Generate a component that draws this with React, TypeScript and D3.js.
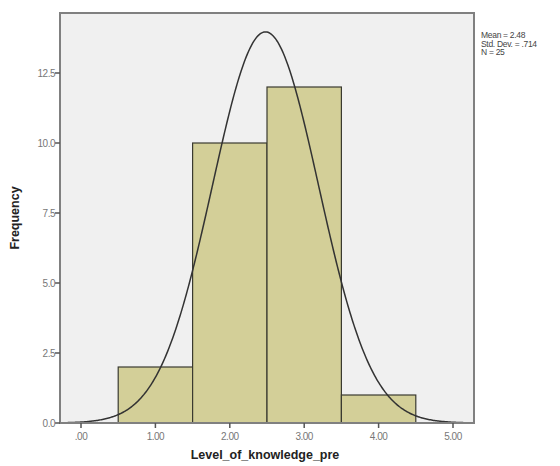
import React from "react";
import * as d3 from "d3";

const binStarts = [0.5, 1.5, 2.5, 3.5];
const binEnds = [1.5, 2.5, 3.5, 4.5];
const frequencies = [2, 10, 12, 1];
const xTicks = [0, 1, 2, 3, 4, 5];
const xTickLabels = [".00", "1.00", "2.00", "3.00", "4.00", "5.00"];
const yTicks = [0, 2.5, 5, 7.5, 10, 12.5];
const yTickLabels = ["0.0", "2.5", "5.0", "7.5", "10.0", "12.5"];
const mean = 2.48;
const sd = 0.714;
const n = 25;
const statsLines = ["Mean = 2.48", "Std. Dev. = .714", "N = 25"];

export default function App() {
  const W = 560, H = 466;
  const left = 60, right = 474, top = 13, bottom = 423;
  const x = d3.scaleLinear().domain([0, 5]).range([81, 453]);
  const y = d3.scaleLinear().domain([0, 14]).range([bottom, bottom - 14 * 28]);
  const pdf = (v: number) => (n * 1 / (sd * Math.sqrt(2 * Math.PI))) * Math.exp(-((v - mean) ** 2) / (2 * sd * sd));
  const xs = d3.range(0, 401).map((i) => x.invert(left) + (i / 400) * (x.invert(right) - x.invert(left)));
  const line = d3.line<number>().x((v) => x(v)).y((v) => y(pdf(v))).curve(d3.curveLinear);
  const font = "Liberation Sans, Arial, sans-serif";
  return (
    <svg width={W} height={H} style={{ position: "absolute", left: 0, top: 0 }}>
      <rect x={0} y={0} width={W} height={H} fill="#fff" />
      <rect x={left} y={top} width={right - left} height={bottom - top} fill="#f0f0f0" />
      <defs>
        <clipPath id="plotclip">
          <rect x={left} y={top} width={right - left} height={bottom - top} />
        </clipPath>
      </defs>
      {frequencies.map((f, i) => (
        <rect key={i} x={x(binStarts[i])} y={y(f)} width={x(binEnds[i]) - x(binStarts[i])} height={y(0) - y(f)}
          fill="#d3cf98" stroke="#3a3a30" strokeWidth={1.2} />
      ))}
      <path d={line(xs) || ""} fill="none" stroke="#333" strokeWidth={1.5} clipPath="url(#plotclip)" />
      <rect x={left} y={top} width={right - left} height={bottom - top} fill="none" stroke="#808080" strokeWidth={2} />
      {yTicks.map((t, i) => (
        <g key={t}>
          <line x1={left - 5} x2={left} y1={y(t)} y2={y(t)} stroke="#555" strokeWidth={1.5} />
          <text x={left - 5} y={y(t) + 3.5} textAnchor="end" fontSize={10} fill="#777" fontFamily={font} letterSpacing={-0.5}>{yTickLabels[i]}</text>
        </g>
      ))}
      {xTicks.map((t, i) => (
        <g key={t}>
          <line x1={x(t)} x2={x(t)} y1={bottom} y2={bottom + 5} stroke="#555" strokeWidth={1.5} />
          <text x={x(t)} y={bottom + 17} textAnchor="middle" fontSize={10} fill="#777" fontFamily={font} letterSpacing={-0.5}>{xTickLabels[i]}</text>
        </g>
      ))}
      <text x={265} y={459} textAnchor="middle" fontSize={12.5} fontWeight="bold" fill="#222" fontFamily={font}>Level_of_knowledge_pre</text>
      <text transform="translate(19,218) rotate(-90)" textAnchor="middle" fontSize={12.5} fontWeight="bold" fill="#222" fontFamily={font}>Frequency</text>
      {statsLines.map((s, i) => (
        <text key={i} x={481} y={38 + i * 8.5} fontSize={8.5} fill="#444" fontFamily={font} letterSpacing={-0.3}>{s}</text>
      ))}
    </svg>
  );
}
